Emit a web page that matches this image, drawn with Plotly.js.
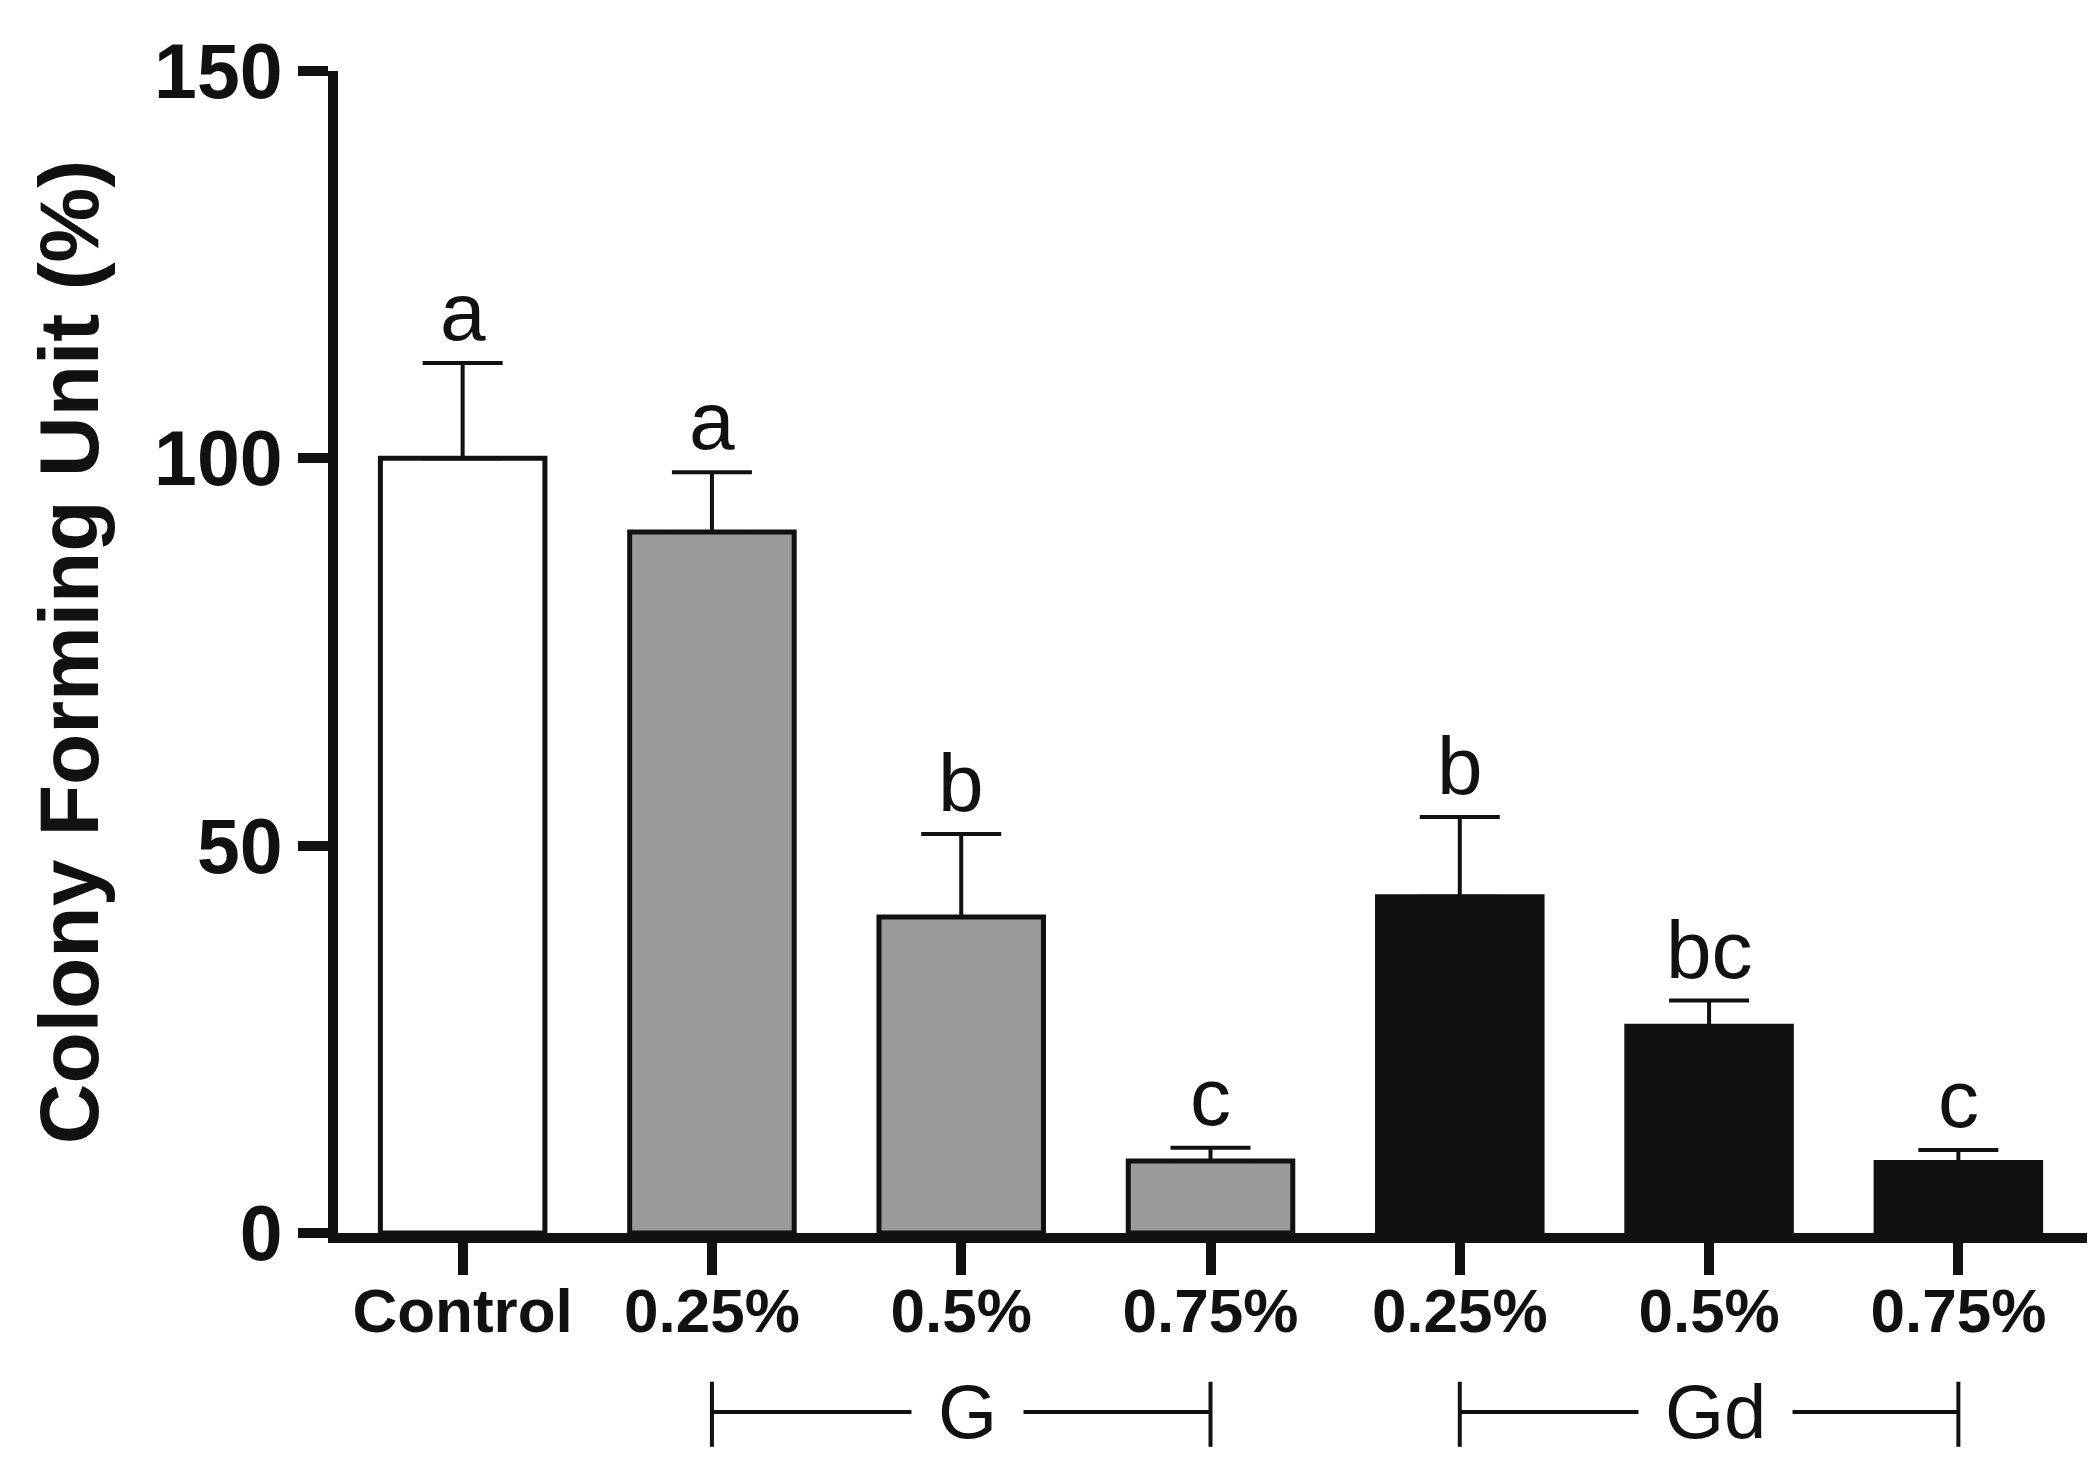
<!DOCTYPE html>
<html>
<head>
<meta charset="utf-8">
<script src="https://cdn.plot.ly/plotly-3.0.1.min.js"></script>
<style>
html,body{margin:0;padding:0;background:#fff;}
#chart{width:2098px;height:1472px;}
</style>
</head>
<body>
<div id="chart"></div>
<script>
// ---- data ----
const tickLabels = ['Control', '0.25%', '0.5%', '0.75%', '0.25%', '0.5%', '0.75%'];
const means = [100, 90.5, 40.8, 9.3, 43.4, 26.7, 9.1];
const sem = [12.3, 7.7, 10.7, 1.7, 10.3, 3.3, 1.6];
const letters = ['a', 'a', 'b', 'c', 'b', 'bc', 'c'];
const groupNames = ['G', 'Gd'];
const groupStart = [1, 4];
const groupEnd = [3, 6];

// ---- styles ----
const fillColors = ['#ffffff', '#9a9a9a', '#9a9a9a', '#9a9a9a', '#111111', '#111111', '#111111'];
const ink = '#111111';
const FONT = 'Liberation Sans, Arial, Helvetica, sans-serif';

const xs = tickLabels.map((_, i) => i);

const trace = {
  type: 'bar',
  x: xs,
  y: means,
  width: 0.66,
  marker: { color: fillColors, line: { color: ink, width: 5 } },
  error_y: {
    type: 'data',
    symmetric: false,
    array: sem,
    arrayminus: sem.map(() => 0),
    color: ink,
    thickness: 4,
    width: 40
  },
  hoverinfo: 'skip'
};

const annotations = xs.map(i => ({
  x: i, y: means[i] + sem[i], xref: 'x', yref: 'y',
  text: letters[i], showarrow: false,
  yanchor: 'bottom', yshift: 4,
  font: { family: FONT, size: 82, color: ink }
}));

const shapes = [];
const yLine = -0.154, yTop = -0.128, yBot = -0.184;
groupNames.forEach((g, k) => {
  const a = groupStart[k], b = groupEnd[k];
  shapes.push({ type: 'line', xref: 'x', yref: 'paper', x0: a, x1: b, y0: yLine, y1: yLine, line: { color: ink, width: 4 } });
  shapes.push({ type: 'line', xref: 'x', yref: 'paper', x0: a, x1: a, y0: yTop, y1: yBot, line: { color: ink, width: 4 } });
  shapes.push({ type: 'line', xref: 'x', yref: 'paper', x0: b, x1: b, y0: yTop, y1: yBot, line: { color: ink, width: 4 } });
  annotations.push({
    x: (a + b) / 2, y: yLine, xref: 'x', yref: 'paper',
    text: g, showarrow: false, yanchor: 'middle', xshift: 6,
    bgcolor: '#ffffff', borderpad: 26,
    font: { family: FONT, size: 76, color: ink }
  });
});

const layout = {
  width: 2098, height: 1472,
  margin: { l: 338, r: 11, t: 71, b: 239 },
  paper_bgcolor: '#ffffff', plot_bgcolor: '#ffffff',
  showlegend: false,
  bargap: 0.34,
  xaxis: {
    range: [-0.5, 6.516],
    tickmode: 'array', tickvals: xs, ticktext: tickLabels,
    showline: true, linecolor: ink, linewidth: 10,
    ticks: 'outside', ticklen: 32, tickwidth: 10, tickcolor: ink,
    ticklabelstandoff: -17,
    showgrid: false, zeroline: false, fixedrange: true,
    tickfont: { family: FONT, size: 62, color: ink, weight: 'bold' }
  },
  yaxis: {
    range: [0, 150],
    tickvals: [0, 50, 100, 150],
    showline: true, linecolor: ink, linewidth: 10,
    ticks: 'outside', ticklen: 30, tickwidth: 10, tickcolor: ink,
    showgrid: false, zeroline: false, fixedrange: true,
    tickfont: { family: FONT, size: 77, color: ink, weight: 'bold' },
    title: { text: 'Colony Forming Unit (%)', standoff: 32,
             font: { family: FONT, size: 84, color: ink, weight: 'bold' } }
  },
  annotations: annotations,
  shapes: shapes
};

Plotly.newPlot('chart', [trace], layout, { displayModeBar: false, staticPlot: true });
</script>
</body>
</html>
